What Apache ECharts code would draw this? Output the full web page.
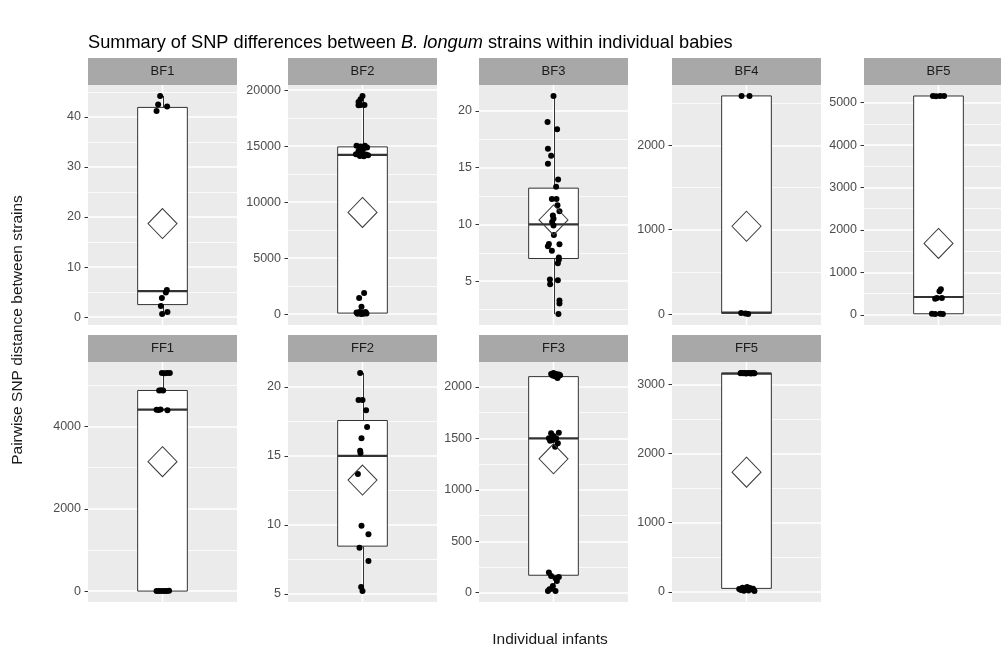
<!DOCTYPE html>
<html><head><meta charset="utf-8">
<script src="https://cdn.jsdelivr.net/npm/echarts@6/dist/echarts.min.js"></script>
<style>html,body{margin:0;padding:0;background:#fff}#c{width:1001px;height:648px}</style>
</head><body><div id="c"></div>
<script>
// ---------- data ----------
const panelNames = ['BF1', 'BF2', 'BF3', 'BF4', 'BF5', 'FF1', 'FF2', 'FF3', 'FF5'];

// jittered points: [horizontal jitter (category units), SNP distance]
const pointsBF1 = [[-0.019,44.2],[-0.035,42.5],[-0.048,41.2],[0.037,42.1],[0.035,5.4],[0.027,4.9],[-0.005,3.8],[-0.013,2.2],[-0.003,0.6],[0.04,1.0]];
const pointsBF2 = [[0,19494],[-0.016,19196],[-0.032,18958],[-0.013,18690],[0.016,18690],[-0.032,18660],
  [-0.048,15030],[-0.016,14970],[0.019,15030],[0.037,14880],[0.005,14730],[-0.032,14580],[-0.008,14375],[-0.053,14285],[0.027,14255],[-0.021,14135],[0.011,14110],[0.045,14200],
  [0.013,1875],[-0.027,1429],[-0.008,655],
  [-0.048,150],[-0.032,90],[-0.016,60],[0,150],[0.016,90],[0.032,60],[-0.04,30],[-0.008,0],[0.008,30],[-0.024,180],[0.024,180]];
const pointsBF3 = [[0,21.33],[-0.048,19.04],[0.029,18.39],[-0.045,16.67],[-0.019,16.05],[-0.045,15.34],[0.037,13.97],[0.021,13.32],[-0.013,12.25],[0.024,12.25],[0.032,11.69],[0.048,11.16],[-0.005,10.80],[0,10.50],[-0.011,10.21],[0,9.91],[0.003,9.08],[-0.037,8.28],[-0.045,8.07],[0.048,8.25],[-0.013,7.69],[0.043,7.09],[0.043,6.89],[0.035,6.59],[-0.029,5.14],[0.035,5.08],[-0.027,4.72],[0.048,3.30],[0.048,3.03],[0.040,2.10]];
const pointsBF4 = [[-0.04,2586],[0.024,2586],[-0.043,12],[0.013,0],[-0.008,8]];
const pointsBF5 = [[-0.045,5160],[-0.019,5150],[0.013,5158],[0.045,5155],[0.019,600],[0.008,553],[-0.013,395],[0.027,395],[-0.027,379],[-0.053,24],[-0.027,16],[0.013,24],[0.035,16]];
const pointsFF1 = [[-0.005,5298],[0.016,5290],[0.037,5300],[0.059,5295],[-0.027,4873],[-0.011,4880],[0.005,4870],[-0.048,4408],[-0.032,4400],[-0.016,4410],[0.04,4390],[-0.048,0],[-0.027,5],[-0.005,0],[0.016,3],[0.035,0],[0.053,8]];
const pointsFF2 = [[-0.019,21.02],[-0.032,19.05],[0,19.05],[0.029,18.31],[0.037,17.10],[-0.008,16.28],[-0.019,15.37],[-0.016,15.22],[-0.037,13.69],[-0.008,9.94],[0.048,9.33],[-0.024,8.34],[0.048,7.38],[-0.011,5.5],[0,5.2]];
const pointsFF3 = [[-0.019,2127],[0,2137],[0.021,2127],[0.043,2121],[0.011,2104],[0.032,2088],[0.053,2114],[-0.008,2111],[0.037,2104],
  [-0.019,1550],[0,1524],[0.043,1556],[-0.037,1501],[0.021,1501],[-0.005,1485],[0.035,1452],[0.013,1419],[-0.027,1478],
  [-0.037,196],[-0.019,163],[0.016,140],[0.043,153],[0.027,114],[-0.005,65],[-0.032,33],[0.016,16],[-0.045,16],[-0.013,39]];
const pointsFF5 = [[-0.048,3166],[-0.037,3168],[-0.027,3164],[-0.016,3170],[-0.005,3162],[0.005,3166],[0.016,3168],[0.027,3165],[0.037,3163],[0.048,3167],[0.059,3166],[0.064,3164],[-0.043,3169],
  [-0.059,40],[-0.045,25],[-0.032,60],[-0.021,15],[-0.008,50],[0.005,70],[0.016,20],[0.027,55],[0.04,35],[0.053,45],[0.064,10]];

// box-plot summary per panel (same order as panelNames)
const boxLow  = [0.6, 0, 2.1, 0, 16, 0, 5.2, 16, 10];
const boxQ1   = [2.5, 90, 7.0, 10, 24, 0, 8.46, 170, 49];
const boxMed  = [5.2, 14230, 10.0, 18, 419, 4408, 15.0, 1501, 3160];
const boxQ3   = [41.9, 14940, 13.2, 2586, 5158, 4873, 17.57, 2101, 3166];
const boxHigh = [44.2, 19494, 21.33, 2586, 5160, 5300, 21.02, 2137, 3170];
const boxMean = [18.7, 9080, 10.4, 1041, 1682, 3143, 13.25, 1302, 1732];

// y tick labels per panel
const ticksBF1 = [0, 10, 20, 30, 40];
const ticksBF2 = [0, 5000, 10000, 15000, 20000];
const ticksBF3 = [5, 10, 15, 20];
const ticksBF4 = [0, 1000, 2000];
const ticksBF5 = [0, 1000, 2000, 3000, 4000, 5000];
const ticksFF1 = [0, 2000, 4000];
const ticksFF2 = [5, 10, 15, 20];
const ticksFF3 = [0, 500, 1000, 1500, 2000];
const ticksFF5 = [0, 1000, 2000, 3000];

const titleText = 'Summary of SNP differences between {i|B. longum} strains within individual babies';
const yTitle = 'Pairwise SNP distance between strains';
const xTitle = 'Individual infants';

// ---------- layout ----------
const allPoints = [pointsBF1, pointsBF2, pointsBF3, pointsBF4, pointsBF5, pointsFF1, pointsFF2, pointsFF3, pointsFF5];
const allTicks = [ticksBF1, ticksBF2, ticksBF3, ticksBF4, ticksBF5, ticksFF1, ticksFF2, ticksFF3, ticksFF5];
const colLeft = [88, 288, 479, 672, 864];
const rowTop = [85, 362];
const panelW = 149, panelH = 240, stripH = 27;
const boxHalf = 0.2;
const FONT = '"Liberation Sans", Arial, sans-serif';

const grids = [], xAxes = [], yAxes = [], series = [], graphics = [];

function renderBox(params, api) {
  const low = api.value(1), q1 = api.value(2), med = api.value(3), q3 = api.value(4), high = api.value(5);
  const pTop = api.coord([-boxHalf, q3]);
  const pBot = api.coord([boxHalf, q1]);
  const cHigh = api.coord([0, high]);
  const cLow = api.coord([0, low]);
  const cMed = api.coord([0, med]);
  const cs = params.coordSys;
  const cx = Math.round(cHigh[0]) + 0.5;
  const st = {stroke: '#333333', lineWidth: 1};
  return {type: 'group', children: [
    // vertical major gridline at the category position
    {type: 'line', shape: {x1: cHigh[0], y1: cs.y, x2: cHigh[0], y2: cs.y + cs.height}, style: {stroke: '#ffffff', lineWidth: 1.5}},
    {type: 'line', shape: {x1: cx, y1: pTop[1], x2: cx, y2: cHigh[1]}, style: st},
    {type: 'line', shape: {x1: cx, y1: pBot[1], x2: cx, y2: cLow[1]}, style: st},
    {type: 'rect', shape: {x: pTop[0], y: pTop[1], width: pBot[0] - pTop[0], height: pBot[1] - pTop[1]},
      style: {fill: '#ffffff', stroke: '#333333', lineWidth: 1}},
    {type: 'line', shape: {x1: pTop[0], y1: cMed[1], x2: pBot[0], y2: cMed[1]}, style: {stroke: '#333333', lineWidth: 2.2}}
  ]};
}

panelNames.forEach((name, i) => {
  const row = i < 5 ? 0 : 1;
  const col = i < 5 ? i : i - 5;
  const left = colLeft[col], top = rowTop[row];
  const pts = allPoints[i];
  const ys = pts.map(p => p[1]).concat([boxLow[i], boxHigh[i]]);
  const mn = Math.min(...ys), mx = Math.max(...ys);
  const ex = (mx - mn) * 0.05;
  const yMin = mn - ex, yMax = mx + ex;
  const majors = allTicks[i];
  const step = majors[1] - majors[0];
  const minors = [];
  for (let v = majors[0] - step / 2; v <= yMax; v += step) if (v >= yMin) minors.push(v);

  grids.push({left: left, top: top, width: panelW, height: panelH, show: true,
    backgroundColor: '#ebebeb', borderWidth: 0, containLabel: false, outerBoundsMode: 'none'});
  xAxes.push({gridIndex: i, type: 'value', min: -0.6, max: 0.6,
    axisLine: {show: false, onZero: false}, axisTick: {show: false}, axisLabel: {show: false},
    splitLine: {show: false}});
  yAxes.push({gridIndex: i, type: 'value', min: yMin, max: yMax, position: 'left',
    axisLine: {show: false, onZero: false},
    axisTick: {show: true, length: 3.5, customValues: majors, lineStyle: {color: '#333333', width: 1}},
    axisLabel: {show: true, customValues: majors, formatter: v => String(v),
      color: '#4d4d4d', fontSize: 12.5, fontFamily: FONT, margin: 7},
    splitLine: {show: true, lineStyle: {color: '#ffffff', width: 1.5}}});
  // minor gridlines axis (hidden, same scale)
  yAxes.push({gridIndex: i, type: 'value', min: yMin, max: yMax, position: 'left',
    axisLine: {show: false, onZero: false}, axisTick: {show: false, customValues: minors}, axisLabel: {show: false},
    splitLine: {show: true, lineStyle: {color: '#ffffff', width: 0.8}}});

  series.push({type: 'custom', xAxisIndex: i, yAxisIndex: 2 * i, renderItem: renderBox, silent: true, z: 2,
    encode: {x: 0, y: [1, 2, 3, 4, 5]},
    data: [[0, boxLow[i], boxQ1[i], boxMed[i], boxQ3[i], boxHigh[i]]]});
  series.push({type: 'scatter', xAxisIndex: i, yAxisIndex: 2 * i, silent: true, z: 3,
    symbol: 'circle', symbolSize: 6, itemStyle: {color: '#000000', opacity: 1}, data: pts});
  series.push({type: 'scatter', xAxisIndex: i, yAxisIndex: 2 * i, silent: true, z: 4,
    symbol: 'diamond', symbolSize: [29, 30],
    itemStyle: {color: 'rgba(0,0,0,0)', borderColor: '#3a3a3a', borderWidth: 1, opacity: 1},
    data: [[0, boxMean[i]]]});

  graphics.push({type: 'rect', silent: true, shape: {x: left, y: top - stripH, width: panelW, height: stripH},
    style: {fill: '#a8a8a8'}});
  graphics.push({type: 'text', silent: true, x: left + panelW / 2, y: top - stripH / 2,
    style: {text: name, fill: '#1a1a1a', fontSize: 13, fontFamily: FONT, align: 'center', verticalAlign: 'middle'}});
});

graphics.push({type: 'text', silent: true, x: 18, y: 330, rotation: Math.PI / 2,
  style: {text: yTitle, fill: '#1a1a1a', fontSize: 15.5, fontFamily: FONT, align: 'center', verticalAlign: 'middle'}});
graphics.push({type: 'text', silent: true, x: 550, y: 640,
  style: {text: xTitle, fill: '#1a1a1a', fontSize: 15.5, fontFamily: FONT, align: 'center', verticalAlign: 'middle'}});

const chart = echarts.init(document.getElementById('c'), null, {renderer: 'canvas'});
chart.setOption({
  animation: false,
  backgroundColor: '#ffffff',
  title: {text: titleText, left: 88, top: 34, padding: 0,
    textStyle: {fontSize: 18.2, fontWeight: 'normal', color: '#000000', fontFamily: FONT,
      rich: {i: {fontStyle: 'italic', fontSize: 18.2, color: '#000000', fontFamily: FONT}}}},
  grid: grids, xAxis: xAxes, yAxis: yAxes, series: series, graphic: graphics
});
</script></body></html>
